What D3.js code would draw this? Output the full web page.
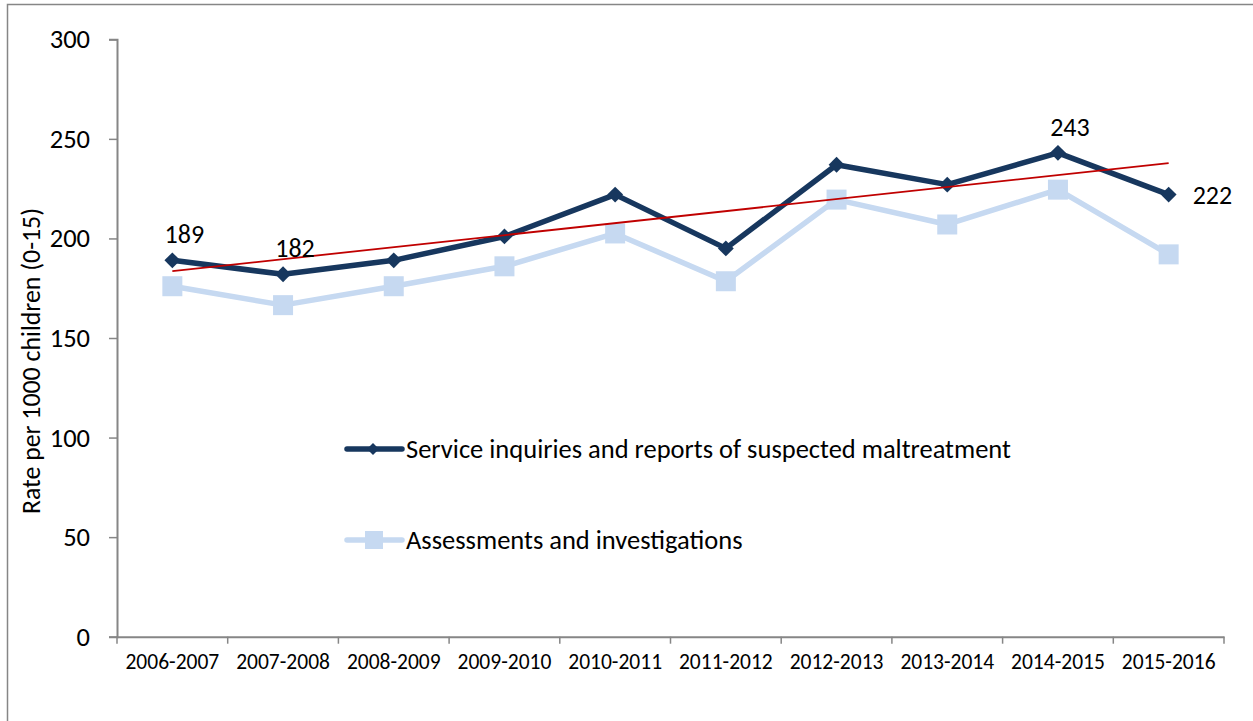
<!DOCTYPE html>
<html>
<head>
<meta charset="utf-8">
<script src="https://cdn.jsdelivr.net/npm/d3@7"></script>
<style>
  body { margin: 0; background: #fff; }
  svg text { font-family: Carlito, Calibri, "Open Sans", sans-serif; fill: #000; }
</style>
</head>
<body>
<svg id="chart" width="1253" height="721"></svg>
<script>
// values
var years = ['2006-2007', '2007-2008', '2008-2009', '2009-2010', '2010-2011',
             '2011-2012', '2012-2013', '2013-2014', '2014-2015', '2015-2016'];
var reports = [189, 182, 189, 201, 222, 195, 237, 227, 243, 222];
var assessments = [176, 166.5, 176, 186, 202.5, 178.5, 219.5, 207, 224.5, 192];
var yTicks = [0, 50, 100, 150, 200, 250, 300];
var labelled = [0, 1, 8, 9];
var seriesNames = ['Service inquiries and reports of suspected maltreatment',
                   'Assessments and investigations'];

var DARK = '#17375E', LIGHT = '#C6D9F1', TREND = '#C00000', AXIS = '#868686';
var FONT = 'Carlito, Calibri, "Open Sans", sans-serif';

var svg = d3.select('#chart');

// outer chart border
svg.append('rect')
    .attr('x', 7.5).attr('y', 4.5)
    .attr('width', 1260).attr('height', 740)
    .style('fill', 'none')
    .style('stroke', AXIS)
    .style('stroke-width', 1.5);

var x = d3.scaleBand().domain(years).range([117, 1224]);
var y = d3.scaleLinear().domain([0, 300]).range([636.7, 39.3]);
var cx = function (i) { return x(years[i]) + x.bandwidth() / 2; };

// y axis
var yAxis = svg.append('g')
    .attr('transform', 'translate(117,0)')
    .call(d3.axisLeft(y).tickValues(yTicks).tickSize(8).tickPadding(19));
yAxis.select('.domain').attr('stroke', AXIS).attr('stroke-width', 2);
yAxis.selectAll('.tick line').attr('stroke', AXIS).attr('stroke-width', 1.5);
yAxis.selectAll('.tick text')
    .attr('font-size', 26.5)
    .style('font-family', FONT);

// x axis, ticks sit between categories
var xAxis = svg.append('g')
    .attr('transform', 'translate(0,636.7)')
    .call(d3.axisBottom(x).tickSize(0).tickPadding(17));
xAxis.select('.domain').attr('stroke', AXIS).attr('stroke-width', 2);
xAxis.selectAll('.tick text')
    .attr('font-size', 21.5)
    .style('font-family', FONT);
xAxis.selectAll('.sep')
    .data(d3.range(years.length + 1))
    .enter()
    .append('line')
    .attr('x1', function (d) { return 117 + d * x.bandwidth(); })
    .attr('x2', function (d) { return 117 + d * x.bandwidth(); })
    .attr('y1', 0).attr('y2', 7)
    .attr('stroke', AXIS).attr('stroke-width', 1.5);

// axis title
svg.append('text')
    .attr('transform', 'translate(40,361) rotate(-90)')
    .attr('text-anchor', 'middle')
    .attr('font-size', 25.8)
    .text('Rate per 1000 children (0-15)');

var line = d3.line()
    .x(function (d, i) { return cx(i); })
    .y(function (d) { return y(d); });

// light series
svg.append('path')
    .datum(assessments)
    .attr('d', line)
    .style('fill', 'none')
    .style('stroke', LIGHT)
    .style('stroke-width', 5.5)
    .style('stroke-linejoin', 'round');
svg.selectAll('.sq')
    .data(assessments)
    .enter()
    .append('rect')
    .attr('x', function (d, i) { return cx(i) - 10; })
    .attr('y', function (d) { return y(d) - 10; })
    .attr('width', 20).attr('height', 20)
    .style('fill', LIGHT);

// dark series
svg.append('path')
    .datum(reports)
    .attr('d', line)
    .style('fill', 'none')
    .style('stroke', DARK)
    .style('stroke-width', 5.5)
    .style('stroke-linejoin', 'round');
var diamond = d3.symbol().type(d3.symbolDiamond2).size(160);
svg.selectAll('.dm')
    .data(reports)
    .enter()
    .append('path')
    .attr('d', diamond)
    .attr('transform', function (d, i) { return 'translate(' + cx(i) + ',' + y(d) + ')'; })
    .style('fill', DARK);

// linear trendline (least squares on the dark series)
var n = reports.length;
var mx = d3.mean(d3.range(n));
var my = d3.mean(reports);
var slope = d3.sum(reports, function (v, i) { return (i - mx) * (v - my); }) /
            d3.sum(d3.range(n), function (i) { return (i - mx) * (i - mx); });
var icpt = my - slope * mx;
svg.append('line')
    .attr('x1', cx(0)).attr('y1', y(icpt))
    .attr('x2', cx(n - 1)).attr('y2', y(icpt + slope * (n - 1)))
    .style('stroke', TREND)
    .style('stroke-width', 1.8);

// data labels
svg.selectAll('.lbl')
    .data(labelled)
    .enter()
    .append('text')
    .attr('font-size', 26)
    .attr('text-anchor', function (i) { return i === n - 1 ? 'start' : 'middle'; })
    .attr('x', function (i) { return i === n - 1 ? cx(i) + 24 : cx(i) + 12; })
    .attr('y', function (i) { return i === n - 1 ? y(reports[i]) + 9 : y(reports[i]) - 17; })
    .text(function (i) { return reports[i]; });

// legend inside the plot
var legend = svg.selectAll('.leg')
    .data(seriesNames)
    .enter()
    .append('g')
    .attr('transform', function (d, i) { return 'translate(347,' + (449 + i * 91) + ')'; });
legend.append('line')
    .attr('x1', 0).attr('x2', 55)
    .style('stroke', function (d, i) { return i === 0 ? DARK : LIGHT; })
    .style('stroke-width', 5.5)
    .style('stroke-linecap', 'round');
legend.filter(function (d, i) { return i === 0; })
    .append('path')
    .attr('d', d3.symbol().type(d3.symbolDiamond2).size(90))
    .attr('transform', 'translate(26,0)')
    .style('fill', DARK);
legend.filter(function (d, i) { return i === 1; })
    .append('rect')
    .attr('x', 18).attr('y', -9).attr('width', 18).attr('height', 18)
    .style('fill', LIGHT);
legend.append('text')
    .attr('x', 59)
    .attr('dy', '0.35em')
    .attr('font-size', 26.5)
    .text(function (d) { return d; });
</script>
</body>
</html>
